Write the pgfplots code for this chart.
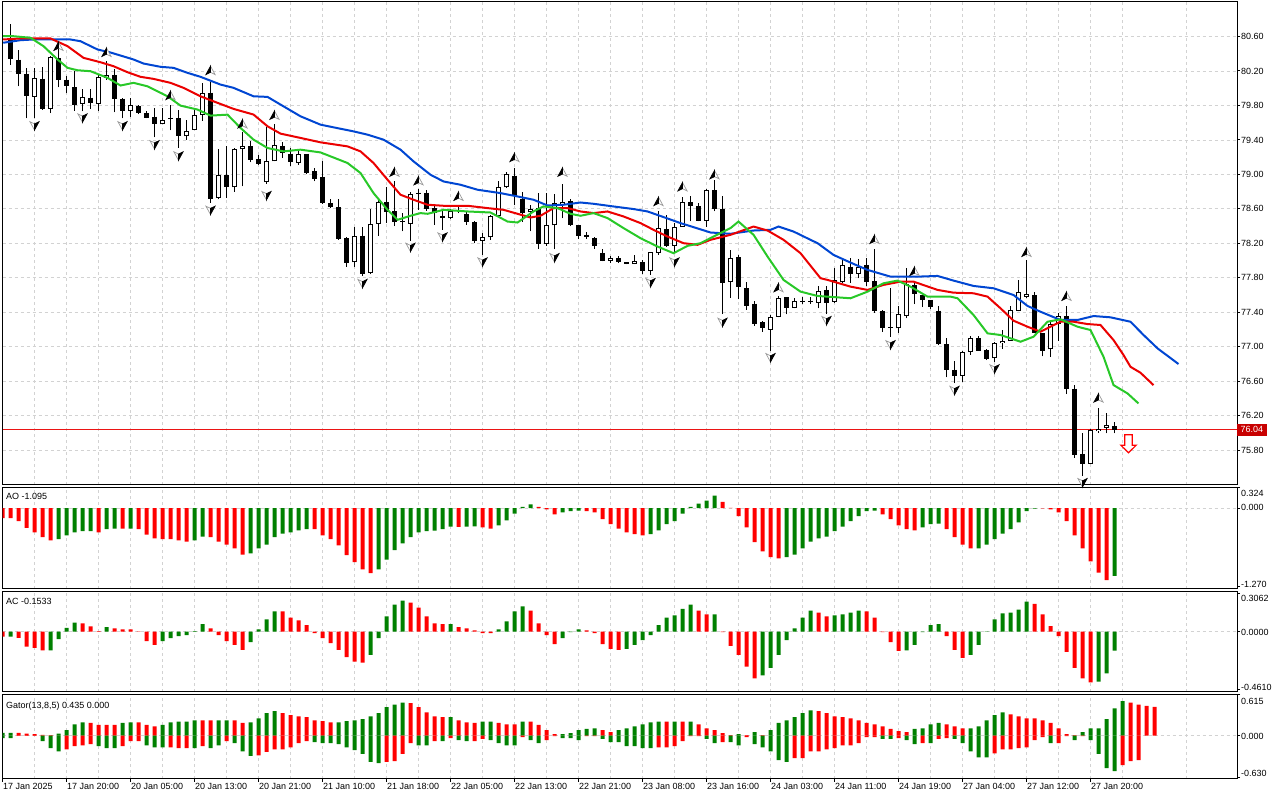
\documentclass[border=0pt]{standalone}
\usepackage{pgfplots}
\pgfplotsset{compat=1.18}
\usepackage{fontspec}
\setmainfont{Liberation Sans}
\definecolor{jaw}{RGB}{0,70,210}
\definecolor{teeth}{RGB}{235,0,0}
\definecolor{lips}{RGB}{40,200,40}
\definecolor{hred}{RGB}{255,0,0}
\definecolor{hgreen}{RGB}{0,128,0}
\definecolor{gridc}{RGB}{210,210,210}
\definecolor{pricered}{RGB}{200,0,0}
\definecolor{pline}{RGB}{235,20,20}
\newcommand\lab{\fontsize{9}{10}\selectfont}
\newcommand\bear[5]{%
  \addplot[black, line width=1bp, forget plot] coordinates {(#1,#4) (#1,#3)};
  \addplot[black, line width=5bp, line cap=butt, forget plot] coordinates {(#1,#2) (#1,#5)};
}
\newcommand\bull[5]{%
  \addplot[black, line width=1bp, forget plot] coordinates {(#1,#4) (#1,#3)};
  \addplot[black, line width=5bp, line cap=butt, forget plot] coordinates {(#1,#2) (#1,#5)};
  \pgfmathsetmacro\blo{#2+0.0116}\pgfmathsetmacro\bhi{#5-0.0116}%
  \addplot[white, line width=3bp, line cap=butt, forget plot] coordinates {(#1,\blo) (#1,\bhi)};
}
\pgfdeclareplotmark{fup}{%
\pgfsetlinewidth{0.7bp}%
\pgfsetstrokecolor{black!40}\pgfsetfillcolor{white}%
\pgfpathmoveto{\pgfqpoint{0bp}{4.8bp}}%
\pgfpathlineto{\pgfqpoint{4.6bp}{-3.6bp}}%
\pgfpathlineto{\pgfqpoint{0bp}{-1.4bp}}%
\pgfpathclose\pgfusepathqfillstroke
\pgfsetstrokecolor{black}\pgfsetfillcolor{black}%
\pgfpathmoveto{\pgfqpoint{0bp}{4.8bp}}%
\pgfpathlineto{\pgfqpoint{-4.6bp}{-3.6bp}}%
\pgfpathlineto{\pgfqpoint{0bp}{-1.4bp}}%
\pgfpathclose\pgfusepathqfillstroke}
\pgfdeclareplotmark{fdown}{%
\pgfsetlinewidth{0.7bp}%
\pgfsetstrokecolor{black!40}\pgfsetfillcolor{white}%
\pgfpathmoveto{\pgfqpoint{0bp}{-4.8bp}}%
\pgfpathlineto{\pgfqpoint{-4.6bp}{3.6bp}}%
\pgfpathlineto{\pgfqpoint{0bp}{1.4bp}}%
\pgfpathclose\pgfusepathqfillstroke
\pgfsetstrokecolor{black}\pgfsetfillcolor{black}%
\pgfpathmoveto{\pgfqpoint{0bp}{-4.8bp}}%
\pgfpathlineto{\pgfqpoint{4.6bp}{3.6bp}}%
\pgfpathlineto{\pgfqpoint{0bp}{1.4bp}}%
\pgfpathclose\pgfusepathqfillstroke}
\pgfdeclareplotmark{sell}{%
\pgfpathmoveto{\pgfqpoint{-3.8bp}{9bp}}%
\pgfpathlineto{\pgfqpoint{3.8bp}{9bp}}%
\pgfpathlineto{\pgfqpoint{3.8bp}{-1.5bp}}%
\pgfpathlineto{\pgfqpoint{7.6bp}{-1.5bp}}%
\pgfpathlineto{\pgfqpoint{0bp}{-9bp}}%
\pgfpathlineto{\pgfqpoint{-7.6bp}{-1.5bp}}%
\pgfpathlineto{\pgfqpoint{-3.8bp}{-1.5bp}}%
\pgfpathclose\pgfusepathqfillstroke}
\pgfplotsset{
  mt/.style={scale only axis, width=1234.5bp, xmin=1.0, xmax=155.3125, clip=true,
    anchor=north west,
    axis line style={line width=1bp},
    xtick={1,9,...,137}, minor xtick={5,13,...,153},
    xmajorgrids, xminorgrids,
    major grid style={gridc, line width=0.8bp, dash pattern=on 3bp off 3bp},
    minor grid style={gridc, line width=0.8bp, dash pattern=on 3bp off 3bp},
    xticklabels={},
    tick align=outside, major tick length=3bp, minor tick length=0pt,
    xtick style={draw=none},
    ytick pos=right, yticklabel pos=right,
    ytick style={line width=1bp, black},
    ticklabel style={font=\lab},
  },
}
\begin{document}
\begin{tikzpicture}
\useasboundingbox (0,0) rectangle (1280bp,800bp);
% ================= MAIN PRICE PANEL =================
\begin{axis}[mt, at={(2.5bp,798bp)}, height=483bp, ymin=75.397, ymax=81.0, ymajorgrids,
  ytick={75.8,76.2,76.6,77,77.4,77.8,78.2,78.6,79,79.4,79.8,80.2,80.6},
  yticklabels={75.80,76.20,76.60,77.00,77.40,77.80,78.20,78.60,79.00,79.40,79.80,80.20,80.60},
  yticklabel style={inner sep=1bp},
  after end axis/.code={\node[fill=pricered,text=white,font=\lab,anchor=west,inner xsep=3.5bp,inner ysep=2.8bp] at (axis cs:155.3125,76.04) {76.04};}]
% current price line (under the candles)
\addplot[draw=pline, line width=1bp, mark=none] coordinates {(1.0,76.04) (155.3125,76.04)};
\bear{2}{80.57}{80.75}{80.27}{80.34}
\bear{3}{80.33}{80.44}{80.02}{80.16}
\bear{4}{80.17}{80.24}{79.65}{79.91}
\bull{5}{79.90}{80.24}{79.65}{80.12}
\bear{6}{80.11}{80.25}{79.75}{79.76}
\bull{7}{79.76}{80.37}{79.71}{80.36}
\bear{8}{80.35}{80.45}{80.01}{80.09}
\bear{9}{80.10}{80.14}{79.94}{80.02}
\bear{10}{80.01}{80.20}{79.74}{79.81}
\bull{11}{79.82}{79.99}{79.73}{79.90}
\bear{12}{79.89}{79.99}{79.76}{79.83}
\bull{13}{79.82}{80.17}{79.74}{80.13}
\bull{14}{80.12}{80.31}{80.10}{80.15}
\bear{15}{80.15}{80.22}{79.72}{79.88}
\bear{16}{79.88}{79.89}{79.65}{79.74}
\bull{17}{79.74}{79.89}{79.67}{79.81}
\bear{18}{79.79}{79.81}{79.70}{79.71}
\bear{19}{79.71}{79.73}{79.65}{79.66}
\bear{20}{79.67}{79.77}{79.43}{79.58}
\bull{21}{79.58}{79.77}{79.58}{79.63}
\bear{22}{79.655}{79.81}{79.51}{79.645}
\bear{23}{79.65}{79.75}{79.31}{79.44}
\bull{24}{79.44}{79.63}{79.40}{79.50}
\bull{25}{79.52}{79.75}{79.51}{79.69}
\bull{26}{79.69}{80.06}{79.62}{79.95}
\bear{27}{79.95}{80.07}{78.67}{78.72}
\bull{28}{78.73}{79.30}{78.71}{78.99}
\bear{29}{78.99}{79.33}{78.73}{78.85}
\bull{30}{78.85}{79.31}{78.80}{79.29}
\bull{31}{79.29}{79.49}{78.86}{79.33}
\bear{32}{79.33}{79.39}{79.14}{79.17}
\bear{33}{79.18}{79.22}{79.11}{79.12}
\bull{34}{78.91}{79.55}{78.89}{79.16}
\bull{35}{79.15}{79.59}{79.15}{79.34}
\bear{36}{79.33}{79.38}{79.19}{79.25}
\bear{37}{79.24}{79.31}{79.10}{79.14}
\bull{38}{79.13}{79.29}{79.11}{79.24}
\bear{39}{79.24}{79.24}{79.00}{79.02}
\bear{40}{79.04}{79.07}{78.92}{78.95}
\bear{41}{78.97}{79.15}{78.66}{78.67}
\bear{42}{78.67}{78.71}{78.61}{78.62}
\bear{43}{78.62}{78.71}{78.24}{78.25}
\bear{44}{78.26}{78.27}{77.93}{77.97}
\bull{45}{77.98}{78.39}{77.93}{78.29}
\bear{46}{78.29}{78.39}{77.82}{77.85}
\bull{47}{77.86}{78.60}{77.84}{78.43}
\bull{48}{78.43}{78.72}{78.29}{78.68}
\bear{49}{78.68}{78.85}{78.44}{78.56}
\bear{50}{78.57}{78.92}{78.40}{78.45}
\bear{51}{78.455}{78.55}{78.34}{78.445}
\bull{52}{78.43}{78.80}{78.23}{78.775}
\bear{53}{78.79}{78.83}{78.59}{78.775}
\bear{54}{78.79}{78.82}{78.58}{78.60}
\bear{55}{78.61}{78.63}{78.415}{78.55}
\bear{56}{78.52}{78.57}{78.36}{78.49}
\bull{57}{78.49}{78.60}{78.48}{78.58}
\bear{58}{78.585}{78.64}{78.55}{78.575}
\bear{59}{78.54}{78.58}{78.415}{78.45}
\bear{60}{78.445}{78.455}{78.20}{78.23}
\bull{61}{78.23}{78.32}{78.07}{78.27}
\bull{62}{78.27}{78.53}{78.24}{78.52}
\bull{63}{78.52}{78.92}{78.52}{78.85}
\bull{64}{78.85}{79.03}{78.84}{79.00}
\bear{65}{78.985}{79.08}{78.64}{78.75}
\bear{66}{78.72}{78.80}{78.45}{78.55}
\bull{67}{78.56}{78.64}{78.34}{78.60}
\bear{68}{78.61}{78.78}{78.14}{78.19}
\bull{69}{78.19}{78.78}{78.17}{78.41}
\bull{70}{78.41}{78.77}{78.13}{78.67}
\bull{71}{78.64}{78.89}{78.49}{78.68}
\bear{72}{78.69}{78.71}{78.40}{78.415}
\bear{73}{78.41}{78.415}{78.25}{78.28}
\bear{74}{78.30}{78.33}{78.25}{78.27}
\bear{75}{78.265}{78.27}{78.135}{78.175}
\bear{76}{78.09}{78.13}{77.99}{78.00}
\bull{77}{78.00}{78.05}{77.97}{78.03}
\bear{78}{78.025}{78.05}{77.97}{77.98}
\bear{79}{77.98}{77.985}{77.955}{77.962}
\bull{80}{77.96}{78.07}{77.96}{77.995}
\bear{81}{77.985}{78.01}{77.85}{77.885}
\bull{82}{77.885}{78.105}{77.835}{78.10}
\bull{83}{78.09}{78.57}{78.07}{78.375}
\bear{84}{78.365}{78.53}{78.16}{78.175}
\bull{85}{78.175}{78.435}{78.085}{78.39}
\bull{86}{78.395}{78.74}{78.39}{78.68}
\bear{87}{78.675}{78.745}{78.455}{78.635}
\bear{88}{78.635}{78.665}{78.455}{78.465}
\bull{89}{78.465}{78.83}{78.395}{78.82}
\bear{90}{78.82}{78.94}{78.57}{78.60}
\bear{91}{78.60}{78.745}{77.38}{77.74}
\bull{92}{77.75}{78.125}{77.57}{78.03}
\bear{93}{78.04}{78.065}{77.55}{77.69}
\bear{94}{77.68}{77.755}{77.43}{77.475}
\bear{95}{77.50}{77.535}{77.245}{77.27}
\bear{96}{77.285}{77.30}{77.175}{77.22}
\bull{97}{77.20}{77.37}{76.955}{77.35}
\bull{98}{77.35}{77.59}{77.34}{77.565}
\bear{99}{77.575}{77.58}{77.375}{77.455}
\bull{100}{77.455}{77.565}{77.445}{77.535}
\bear{101}{77.537}{77.58}{77.50}{77.527}
\bear{102}{77.537}{77.58}{77.50}{77.527}
\bull{103}{77.51}{77.70}{77.445}{77.645}
\bear{104}{77.66}{77.70}{77.38}{77.51}
\bull{105}{77.525}{77.91}{77.505}{77.77}
\bull{106}{77.755}{78.015}{77.735}{77.945}
\bear{107}{77.93}{78.025}{77.745}{77.84}
\bull{108}{77.845}{78.02}{77.795}{77.93}
\bear{109}{77.95}{78.025}{77.705}{77.755}
\bear{110}{77.765}{78.13}{77.395}{77.41}
\bear{111}{77.41}{77.425}{77.175}{77.215}
\bear{112}{77.225}{77.68}{77.115}{77.213}
\bull{113}{77.215}{77.475}{77.165}{77.375}
\bull{114}{77.355}{77.91}{77.33}{77.725}
\bear{115}{77.715}{77.755}{77.495}{77.615}
\bear{116}{77.60}{77.60}{77.46}{77.545}
\bear{117}{77.545}{77.545}{77.435}{77.465}
\bear{118}{77.42}{77.475}{77.02}{77.03}
\bear{119}{77.03}{77.10}{76.645}{76.735}
\bear{120}{76.735}{76.84}{76.58}{76.665}
\bull{121}{76.665}{76.955}{76.595}{76.945}
\bull{122}{76.94}{77.12}{76.905}{77.10}
\bear{123}{77.10}{77.125}{76.955}{76.955}
\bear{124}{76.96}{76.98}{76.845}{76.855}
\bull{125}{76.865}{77.06}{76.825}{77.04}
\bull{126}{77.04}{77.19}{76.98}{77.07}
\bull{127}{77.07}{77.475}{77.07}{77.43}
\bull{128}{77.42}{77.77}{77.41}{77.63}
\bull{129}{77.58}{78.01}{77.57}{77.615}
\bear{130}{77.60}{77.64}{77.155}{77.165}
\bear{131}{77.155}{77.165}{76.89}{76.95}
\bull{132}{76.97}{77.29}{76.885}{77.27}
\bull{133}{77.27}{77.395}{77.07}{77.355}
\bear{134}{77.355}{77.475}{76.45}{76.515}
\bear{135}{76.515}{76.555}{75.715}{75.74}
\bear{136}{75.755}{76.00}{75.50}{75.645}
\bull{137}{75.645}{76.05}{75.635}{76.04}
\bull{138}{76.02}{76.295}{76.00}{76.05}
\bull{139}{76.06}{76.235}{75.995}{76.09}
\bear{140}{76.08}{76.13}{75.995}{76.04}
% Alligator jaw
\addplot[jaw, line width=2bp] coordinates {(1.09,80.527)(3.25,80.557)(4.88,80.565)(9.5,80.565)(10.75,80.545)(12.88,80.449)(14.5,80.414)(17.38,80.333)(18.63,80.286)(20.75,80.248)(22.38,80.236)(24.13,80.178)(25.75,80.132)(28.25,80.042)(29.88,80.004)(32.38,79.906)(34.13,79.899)(35.75,79.81)(38.25,79.674)(40.75,79.577)(42.38,79.546)(44.88,79.499)(46.63,79.461)(48.63,79.403)(50.75,79.287)(52.38,79.151)(54.5,78.996)(56.13,78.918)(58.25,78.88)(60.38,78.822)(63.25,78.783)(65.38,78.744)(67.38,78.706)(69.13,78.639)(71.13,78.648)(73.25,78.674)(74.88,78.659)(77.38,78.628)(79.88,78.598)(81.63,78.57)(83.63,78.505)(85.75,78.435)(87.38,78.388)(89.5,78.326)(92,78.311)(94.88,78.349)(97,78.357)(98,78.395)(99.88,78.337)(102,78.241)(102.88,78.202)(104.88,78.066)(107,77.977)(109.13,77.892)(112,77.814)(115.38,77.814)(117.88,77.822)(119.88,77.768)(122.38,77.706)(124.88,77.679)(127.38,77.601)(129.13,77.474)(130.75,77.407)(133.25,77.311)(135.38,77.311)(137.38,77.357)(139.5,77.342)(142,77.291)(143.63,77.137)(145.38,76.982)(148,76.8)};
% Alligator teeth
\addplot[teeth, line width=2bp] coordinates {(1.09,80.565)(3.25,80.577)(7,80.577)(9.13,80.487)(11.13,80.352)(13.25,80.301)(14.88,80.255)(16.63,80.185)(18.25,80.132)(19.88,80.108)(22,80.062)(23.63,80.004)(25.75,79.906)(27.88,79.83)(29.88,79.76)(32.38,79.694)(34.13,79.558)(35.75,79.473)(38.25,79.423)(40.75,79.372)(44.13,79.325)(45.75,79.267)(47.38,79.132)(49.13,78.938)(50.75,78.764)(52.38,78.706)(54.13,78.648)(56.13,78.636)(59.13,78.636)(61.63,78.609)(63.63,78.589)(65.38,78.543)(67,78.5)(68.25,78.52)(69.88,78.609)(71.63,78.609)(73.25,78.57)(74.88,78.551)(76.63,78.57)(78.63,78.512)(80.75,78.435)(82.38,78.357)(84.13,78.279)(86.13,78.202)(87.88,78.183)(89.5,78.241)(92,78.299)(94.88,78.395)(96.63,78.349)(98.63,78.241)(100.75,78.086)(103.25,77.796)(104.13,77.776)(107,77.698)(109.13,77.66)(111.13,77.718)(113.25,77.756)(114.88,77.756)(117.88,77.66)(119.88,77.628)(122.38,77.621)(124.13,77.582)(125.75,77.447)(127.38,77.303)(129.13,77.233)(130.75,77.175)(133.25,77.291)(134.88,77.291)(136.63,77.264)(138.25,77.253)(139.88,77.078)(141.13,76.904)(142,76.768)(143.25,76.699)(144.88,76.555)};
% Alligator lips
\addplot[lips, line width=2bp] coordinates {(1.09,80.603)(2.38,80.603)(4.5,80.585)(6.13,80.487)(7.88,80.333)(9.13,80.236)(10.38,80.208)(12,80.197)(14.13,80.12)(15.75,80.031)(17.38,80.062)(19.13,80.022)(21.63,79.906)(23.25,79.798)(25.38,79.752)(27,79.682)(29.13,79.693)(30.75,79.539)(32.38,79.403)(34.13,79.306)(36.13,79.267)(38.25,79.287)(40.75,79.255)(44.13,79.132)(45.75,79.016)(47.38,78.783)(49.13,78.589)(50.38,78.473)(52,78.52)(53.25,78.551)(54.13,78.543)(56.13,78.589)(59.13,78.57)(62,78.558)(64.13,78.453)(65.38,78.442)(67.38,78.57)(68.63,78.628)(70.38,78.609)(72,78.543)(73.25,78.52)(74.88,78.551)(76.63,78.493)(78.63,78.377)(80.75,78.26)(82.88,78.163)(84.88,78.086)(86.63,78.171)(88.25,78.202)(89.88,78.279)(92,78.377)(93,78.453)(94.88,78.299)(96.63,78.047)(98.63,77.776)(100.75,77.64)(102.88,77.59)(107,77.563)(109.13,77.64)(111.13,77.737)(112.88,77.768)(114.5,77.698)(116.63,77.582)(119.5,77.582)(120.38,77.563)(122.38,77.369)(124.13,77.156)(125.75,77.137)(128.25,77.059)(129.88,77.117)(131.63,77.291)(133.25,77.319)(135.38,77.233)(137,77.195)(138.63,76.884)(139.88,76.556)(141.63,76.459)(143,76.343)};
% fractals
\addplot[only marks, mark=fup] coordinates {(8,80.48)(14,80.41)(22,79.91)(27,80.20)(31,79.58)(35,79.68)(50,79.02)(53,78.92)(58,78.74)(65,79.19)(71,79.02)(83,78.68)(86,78.85)(90,78.99)(98,77.68)(110,78.24)(115,77.87)(129,78.09)(134,77.58)(138,76.40)};
\addplot[only marks, mark=fdown] coordinates {(5,79.57)(11,79.66)(16,79.57)(20,79.35)(23,79.22)(27,78.59)(34,78.76)(46,77.74)(52,78.16)(56,78.28)(61,77.99)(70,78.04)(82,77.75)(85,77.99)(91,77.29)(97,76.88)(104,77.31)(112,77.03)(120,76.50)(125,76.75)(136,75.43)};
% signal arrow
\addplot[only marks, mark=sell, mark options={draw=hred, fill=white, line width=1.2bp}] coordinates {(141.75,75.875)};
\end{axis}
% ================= AO =================
\begin{axis}[mt, at={(2.5bp,312.5bp)}, height=101.5bp, ymin=-1.305, ymax=0.332,
  ytick={-1.27,0,0.324}, yticklabels={},
  after end axis/.code={
    \node[anchor=north west,font=\lab,inner sep=0pt,xshift=3.5bp,yshift=-6bp] at (rel axis cs:0,1) {AO -1.095};
    \node[anchor=west,font=\lab,inner sep=0pt,xshift=4bp,yshift=-5.5bp] at (rel axis cs:1,1) {0.324};
    \node[anchor=west,font=\lab,inner sep=0pt,xshift=4bp,yshift=0.8bp] at (axis cs:155.3125,0) {0.000};
    \node[anchor=west,font=\lab,inner sep=0pt,xshift=4bp,yshift=5bp] at (rel axis cs:1,0) {-1.270};
  }]
\addplot[gridc, line width=0.8bp, dash pattern=on 3bp off 3bp] coordinates {(1.0,0)(155.3125,0)};
\addplot[ybar, bar width=4bp, bar shift=0pt, fill=hred, draw=none] coordinates {(1,-0.16)(2,-0.16)(3,-0.21)(4,-0.32)(5,-0.39)(6,-0.47)(7,-0.52)(13,-0.39)(16,-0.33)(18,-0.34)(19,-0.43)(20,-0.49)(21,-0.50)(22,-0.50)(23,-0.52)(24,-0.54)(27,-0.47)(28,-0.54)(29,-0.59)(30,-0.65)(31,-0.75)(40,-0.34)(41,-0.44)(42,-0.50)(43,-0.60)(44,-0.76)(45,-0.87)(46,-0.99)(47,-1.05)(58,-0.305)(61,-0.31)(62,-0.33)(68,0.02)(69,-0.02)(70,-0.10)(74,-0.05)(75,-0.07)(76,-0.18)(77,-0.26)(78,-0.33)(79,-0.39)(80,-0.42)(81,-0.44)(91,0.10)(92,0.005)(93,-0.13)(94,-0.31)(95,-0.55)(96,-0.70)(97,-0.79)(98,-0.81)(111,-0.10)(112,-0.18)(113,-0.28)(114,-0.34)(115,-0.36)(119,-0.34)(120,-0.47)(121,-0.59)(122,-0.65)(131,-0.005)(132,-0.02)(133,-0.07)(134,-0.21)(135,-0.44)(136,-0.65)(137,-0.86)(138,-1.04)(139,-1.16)};
\addplot[ybar, bar width=4bp, bar shift=0pt, fill=hgreen, draw=none] coordinates {(8,-0.50)(9,-0.44)(10,-0.39)(11,-0.37)(12,-0.37)(14,-0.34)(15,-0.33)(17,-0.33)(25,-0.52)(26,-0.46)(32,-0.73)(33,-0.65)(34,-0.59)(35,-0.47)(36,-0.41)(37,-0.39)(38,-0.36)(39,-0.34)(48,-0.99)(49,-0.83)(50,-0.68)(51,-0.57)(52,-0.47)(53,-0.39)(54,-0.37)(55,-0.365)(56,-0.34)(57,-0.30)(59,-0.30)(60,-0.295)(63,-0.28)(64,-0.20)(65,-0.09)(66,0.02)(67,0.06)(71,-0.07)(72,-0.05)(73,-0.04)(82,-0.42)(83,-0.36)(84,-0.26)(85,-0.21)(86,-0.09)(87,0.02)(88,0.07)(89,0.12)(90,0.20)(99,-0.79)(100,-0.75)(101,-0.65)(102,-0.54)(103,-0.49)(104,-0.46)(105,-0.37)(106,-0.30)(107,-0.21)(108,-0.13)(109,-0.05)(110,-0.04)(116,-0.31)(117,-0.26)(118,-0.25)(123,-0.65)(124,-0.59)(125,-0.50)(126,-0.41)(127,-0.34)(128,-0.23)(129,-0.05)(130,-0.01)(140,-1.095)};
\end{axis}
% ================= AC =================
\begin{axis}[mt, at={(2.5bp,208bp)}, height=99.5bp, ymin=-0.48, ymax=0.316,
  ytick={-0.461,0,0.3062}, yticklabels={},
  after end axis/.code={
    \node[anchor=north west,font=\lab,inner sep=0pt,xshift=3.5bp,yshift=-6.5bp] at (rel axis cs:0,1) {AC -0.1533};
    \node[anchor=west,font=\lab,inner sep=0pt,xshift=4bp,yshift=-6bp] at (rel axis cs:1,1) {0.3062};
    \node[anchor=west,font=\lab,inner sep=0pt,xshift=4bp,yshift=-0.5bp] at (axis cs:155.3125,0) {0.0000};
    \node[anchor=west,font=\lab,inner sep=0pt,xshift=4bp,yshift=4bp] at (rel axis cs:1,0) {-0.4610};
  }]
\addplot[gridc, line width=0.8bp, dash pattern=on 3bp off 3bp] coordinates {(1.0,0)(155.3125,0)};
\addplot[ybar, bar width=4bp, bar shift=0pt, fill=hred, draw=none] coordinates {(1,-0.04)(3,-0.05)(4,-0.12)(5,-0.13)(6,-0.15)(11,0.065)(12,0.04)(13,0.003)(15,0.026)(16,0.018)(17,0.018)(18,-0.002)(19,-0.076)(20,-0.107)(27,0.026)(28,-0.029)(29,-0.076)(30,-0.107)(31,-0.147)(36,0.16)(37,0.11)(38,0.089)(39,0.05)(40,-0.013)(41,-0.052)(42,-0.092)(43,-0.147)(44,-0.204)(45,-0.24)(46,-0.249)(52,0.23)(53,0.19)(54,0.12)(55,0.065)(56,0.058)(58,0.034)(59,0.026)(60,0.01)(61,-0.013)(62,-0.013)(67,0.167)(68,0.065)(69,-0.029)(70,-0.1)(74,0.01)(75,-0.013)(76,-0.1)(77,-0.139)(78,-0.147)(88,0.167)(89,0.136)(91,-0.005)(92,-0.115)(93,-0.186)(94,-0.28)(95,-0.374)(103,0.15)(104,0.12)(109,0.16)(110,0.11)(111,-0.005)(112,-0.084)(113,-0.155)(119,-0.037)(120,-0.147)(121,-0.21)(130,0.22)(131,0.136)(132,0.042)(133,-0.037)(134,-0.162)(135,-0.29)(136,-0.374)(137,-0.406)};
\addplot[ybar, bar width=4bp, bar shift=0pt, fill=hgreen, draw=none] coordinates {(2,-0.04)(7,-0.15)(8,-0.06)(9,0.03)(10,0.07)(14,0.034)(21,-0.076)(22,-0.052)(23,-0.037)(24,-0.029)(25,0.003)(26,0.058)(32,-0.084)(33,0.018)(34,0.097)(35,0.16)(47,-0.186)(48,-0.052)(49,0.12)(50,0.215)(51,0.246)(57,0.058)(63,0.018)(64,0.081)(65,0.16)(66,0.2)(71,-0.052)(72,-0.005)(73,0.018)(79,-0.139)(80,-0.107)(81,-0.068)(82,-0.029)(83,0.05)(84,0.11)(85,0.128)(86,0.18)(87,0.215)(90,0.136)(96,-0.35)(97,-0.29)(98,-0.186)(99,-0.068)(100,0.026)(101,0.11)(102,0.167)(105,0.128)(106,0.136)(107,0.15)(108,0.167)(114,-0.15)(115,-0.107)(116,-0.005)(117,0.05)(118,0.058)(122,-0.186)(123,-0.107)(124,-0.003)(125,0.097)(126,0.144)(127,0.15)(128,0.175)(129,0.238)(138,-0.40)(139,-0.335)(140,-0.153)};
\end{axis}
% ================= GATOR =================
\begin{axis}[mt, at={(2.5bp,105bp)}, height=84bp, ymin=-0.66, ymax=0.6146,
  ytick={-0.63,0,0.615}, yticklabels={},
  xtick style={draw=black, line width=1bp}, xtick pos=left,
  xticklabels={17 Jan 2025,17 Jan 20:00,20 Jan 05:00,20 Jan 13:00,20 Jan 21:00,21 Jan 10:00,21 Jan 18:00,22 Jan 05:00,22 Jan 13:00,22 Jan 21:00,23 Jan 08:00,23 Jan 16:00,24 Jan 03:00,24 Jan 11:00,24 Jan 19:00,27 Jan 04:00,27 Jan 12:00,27 Jan 20:00},
  xticklabel style={anchor=north west, inner sep=0pt, xshift=0.5bp, yshift=-1bp},
  after end axis/.code={
    \node[anchor=north west,font=\lab,inner sep=0pt,xshift=3.5bp,yshift=-6.5bp] at (rel axis cs:0,1) {Gator(13,8,5) 0.435 0.000};
    \node[anchor=west,font=\lab,inner sep=0pt,xshift=4bp,yshift=-6bp] at (rel axis cs:1,1) {0.615};
    \node[anchor=west,font=\lab,inner sep=0pt,xshift=4bp,yshift=-0.5bp] at (axis cs:155.3125,0) {0.000};
    \node[anchor=west,font=\lab,inner sep=0pt,xshift=4bp,yshift=6bp] at (rel axis cs:1,0) {-0.630};
  }]
\addplot[gridc, line width=0.8bp, dash pattern=on 3bp off 3bp] coordinates {(1.0,0)(155.3125,0)};
% upper histogram
\addplot[ybar, bar width=4bp, bar shift=0pt, fill=hgreen, draw=none] coordinates {(1,0.04)(2,0.04)(8,0.03)(9,0.08)(10,0.17)(11,0.20)(16,0.19)(17,0.20)(21,0.16)(22,0.20)(23,0.21)(24,0.21)(25,0.23)(28,0.23)(29,0.23)(32,0.20)(33,0.26)(34,0.34)(35,0.37)(43,0.20)(44,0.22)(45,0.23)(46,0.25)(47,0.29)(48,0.34)(49,0.43)(50,0.47)(51,0.50)(57,0.28)(61,0.21)(62,0.21)(66,0.21)(71,0.02)(72,0.035)(73,0.08)(74,0.10)(75,0.11)(78,0.08)(79,0.11)(80,0.14)(81,0.17)(82,0.20)(83,0.21)(85,0.21)(87,0.21)(93,0.02)(95,0.05)(97,0.08)(98,0.19)(99,0.23)(100,0.28)(101,0.34)(102,0.38)(115,0.10)(116,0.11)(117,0.17)(118,0.19)(122,0.11)(123,0.14)(124,0.23)(125,0.31)(126,0.35)(136,0.05)(137,0.11)(138,0.11)(139,0.25)(140,0.41)(141,0.52)};
\addplot[ybar, bar width=4bp, bar shift=0pt, fill=hred, draw=none] coordinates {(3,0.04)(4,0.03)(5,0.02)(6,0.01)(7,0.005)(12,0.19)(13,0.16)(14,0.16)(15,0.16)(18,0.20)(19,0.16)(20,0.14)(26,0.23)(27,0.23)(30,0.23)(31,0.19)(36,0.34)(37,0.31)(38,0.29)(39,0.28)(40,0.23)(41,0.22)(42,0.20)(52,0.49)(53,0.43)(54,0.35)(55,0.29)(56,0.28)(58,0.23)(59,0.20)(60,0.19)(63,0.19)(64,0.17)(65,0.17)(67,0.21)(68,0.16)(69,0.08)(70,0.02)(76,0.08)(77,0.05)(84,0.21)(86,0.21)(88,0.17)(89,0.11)(90,0.08)(91,0.035)(92,0.005)(94,0.005)(96,0.005)(103,0.37)(104,0.34)(105,0.29)(106,0.28)(107,0.26)(108,0.23)(109,0.19)(110,0.17)(111,0.14)(112,0.10)(113,0.065)(114,0.05)(119,0.17)(120,0.14)(121,0.11)(127,0.32)(128,0.29)(129,0.26)(130,0.26)(131,0.23)(132,0.19)(133,0.11)(134,0.02)(135,0.005)(142,0.50)(143,0.47)(144,0.45)(145,0.435)};
% lower histogram
\addplot[ybar, bar width=4bp, bar shift=0pt, fill=hgreen, draw=none] coordinates {(1,-0.04)(2,-0.04)(6,-0.086)(7,-0.19)(8,-0.24)(13,-0.16)(14,-0.19)(15,-0.19)(19,-0.15)(20,-0.18)(21,-0.18)(25,-0.19)(27,-0.19)(28,-0.15)(30,-0.116)(31,-0.24)(32,-0.31)(40,-0.10)(41,-0.116)(42,-0.116)(43,-0.13)(44,-0.18)(45,-0.22)(46,-0.28)(47,-0.40)(48,-0.42)(53,-0.15)(54,-0.15)(56,-0.086)(58,-0.07)(59,-0.086)(62,-0.07)(63,-0.116)(64,-0.15)(65,-0.15)(67,-0.07)(68,-0.116)(71,-0.04)(72,-0.04)(73,-0.07)(76,-0.05)(77,-0.10)(78,-0.10)(79,-0.16)(80,-0.16)(81,-0.19)(82,-0.19)(89,-0.05)(90,-0.116)(92,-0.10)(93,-0.15)(95,-0.13)(96,-0.18)(97,-0.24)(98,-0.375)(99,-0.40)(111,-0.05)(112,-0.05)(114,-0.07)(115,-0.13)(117,-0.116)(120,-0.05)(121,-0.116)(122,-0.24)(123,-0.33)(124,-0.33)(132,-0.116)(135,-0.07)(137,-0.07)(138,-0.28)(139,-0.495)(140,-0.54)};
\addplot[ybar, bar width=4bp, bar shift=0pt, fill=hred, draw=none] coordinates {(3,-0.005)(4,-0.005)(5,-0.005)(9,-0.21)(10,-0.16)(11,-0.15)(12,-0.13)(16,-0.16)(17,-0.086)(18,-0.086)(22,-0.18)(23,-0.19)(24,-0.19)(26,-0.16)(29,-0.086)(33,-0.30)(34,-0.25)(35,-0.21)(36,-0.21)(37,-0.18)(38,-0.116)(39,-0.086)(49,-0.40)(50,-0.39)(51,-0.28)(52,-0.116)(55,-0.086)(57,-0.04)(60,-0.086)(61,-0.05)(66,-0.025)(69,-0.07)(70,-0.01)(74,-0.01)(75,-0.01)(83,-0.18)(84,-0.18)(85,-0.16)(86,-0.086)(87,-0.01)(88,-0.01)(91,-0.10)(94,-0.025)(100,-0.345)(101,-0.345)(102,-0.24)(103,-0.24)(104,-0.21)(105,-0.19)(106,-0.15)(107,-0.15)(108,-0.116)(109,-0.025)(110,-0.025)(113,-0.04)(116,-0.116)(118,-0.05)(119,-0.04)(125,-0.27)(126,-0.21)(127,-0.21)(128,-0.19)(129,-0.18)(130,-0.07)(131,-0.025)(133,-0.116)(134,-0.01)(136,-0.01)(141,-0.45)(142,-0.39)(143,-0.375)};
\end{axis}
\end{tikzpicture}
\end{document}
